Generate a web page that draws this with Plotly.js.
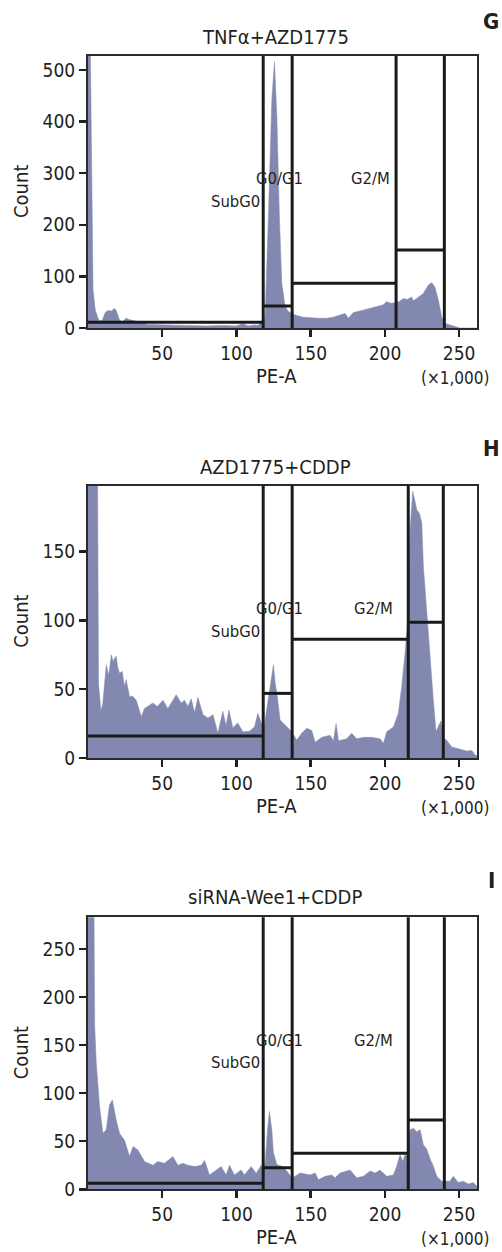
<!DOCTYPE html>
<html>
<head>
<meta charset="utf-8">
<script src="https://cdn.plot.ly/plotly-3.0.1.min.js"></script>
<style>html,body{margin:0;padding:0;background:#fff;}#chart{width:502px;height:1252px;}</style>
</head>
<body>
<div id="chart"></div>
<script>
// ---------- data ----------
const panelTitles = ["TNFα+AZD1775", "AZD1775+CDDP", "siRNA-Wee1+CDDP"];
const panelLetters = ["G", "H", "I"];
const xTickVals = [50, 100, 150, 200, 250];
const gateLabels = ["SubG0", "G0/G1", "G2/M"];

// Panel G: TNFα+AZD1775 (PE-A ×1,000 vs count)
const peA1 = [0,0.5,1.5,2.5,3.4,4.9,7.2,9.5,11.6,13.5,16,17.5,18.6,19.5,21,23,25.8,28,30.3,34.8,40,50,60,70,80,90,100,104,108,112,114.5,115.5,117,118.5,119.3,121.5,123.8,125.6,127.2,128.9,130.5,132.8,135,137.3,140.6,145,149.6,155,160.8,165,169.8,173.2,175.4,178.7,183.2,186,190,195,199,201,204,206.8,210,212.4,215,218,219,221.4,223.5,225.8,229.2,231.5,233.7,236,238.2,240.4,243.8,248.3,250.5,262];
const count1 = [600,600,560,300,73,35,15,14,30,34,33,38,36,30,17,12,19,16,15,12,7,6,5,5,4,5,4,8,4,6,5,8,10,14,22,216,442,516,410,216,87,41,32,28,24,21,20,19,19,21,25,28,19,30,33,35,38,41,45,51,48,49,52,57,55,60,53,57,62,67,83,88,79,54,22,9,6,2.5,0,0];

// Panel H: AZD1775+CDDP
const peA2 = [0,1,3,5.6,7.1,8.7,10,12.3,14,15.7,17,17.9,19,20,21.3,23,24.6,25.7,28,30,32.5,35.9,38,41,43.7,46.7,50.5,53.8,56,59.4,62.8,65,67.3,69.5,71.8,74,77.5,80.8,84.2,87.5,90.8,93,94.9,97.5,100.9,104.3,108.8,112.2,114.4,116.7,118.5,119.3,121.5,123.5,124.9,126,127.5,129.4,131.6,135,137.3,140.6,143.9,147.4,150.7,153,157.5,163,165.3,167.1,168.7,174.3,177.6,181,185.5,191.1,196.7,199,201.2,205.7,209,211.3,213.5,215.3,216.9,218.7,220,221.4,223.2,224.8,225.9,228.1,230.4,232.6,234.4,235.9,237.7,239.2,241.4,245,248.4,251.8,255.1,258.5,260.8,262];
const count2 = [400,400,400,400,54,34,40,67.7,60,75,70,72.5,74,66,61.6,63,52,57,44.6,45,42,30,36,38,40,37.5,42,36,40,46,40,42,37.5,43,33,44,31.5,29,31.5,18,34,23.5,35,22,25.5,19,19.5,22.7,32.5,25,20,27.7,44.6,58,67.7,55,44.6,27.7,25,21.6,19,13,18,21.6,20,11.5,15,16.5,12.6,25,12.6,14,18,14,15,15,14,10.7,19,22.6,32.5,52,76,100,166,194,188,180.5,178,171,139,105,69,42,19,22.7,27,15,13,8,7,6,5,5.5,2,2];

// Panel I: siRNA-Wee1+CDDP
const peA3 = [0,1,3.6,4.5,5.6,7.8,10.1,12.3,14.5,16.4,19,21.3,24.6,28,30.3,33.6,38.1,43.7,47,51.5,57.2,60.5,63.9,67.3,71.8,76.3,78.5,81.8,85.2,89.7,93,95.3,98.6,103.1,105.4,109.9,113.3,116.6,118.5,119.3,120.9,122.2,123.8,124.9,127.2,130.5,133.9,137.3,139.5,142.9,149.6,153,155.2,159.7,164.2,166.4,169.8,174.3,176.5,181,185.5,190,193.4,196.7,201.2,205.7,207.9,210.2,212,213.5,215.1,216.9,219.2,221.4,223.7,225.9,228.1,230.4,232.6,234.9,238.2,240.4,243.8,246,249.4,252.7,256.1,259.5,261.7,262];
const count3 = [400,400,400,170,131,86,58,62,88,93,72,58,51,34,44.5,41,28.8,25,28.8,27,34,25,27,25,23.6,25,30,15,18.4,23.6,15,25,15,20,15,23.6,16.6,25,22,27,62,81,62,38,25.7,24,19,12,13.5,17,15,17,10,13.5,15,12,17,19,20,12,13.5,19,17,20,13.5,15,24,36,29,36,34,62,63.5,60,62,46,42,31.6,24,13.5,8.5,8.5,8.5,13.5,7,8.5,5.5,7,3,3];

// Gate boundaries (PE-A ×1,000) and gate marker heights (count)
const gateBounds1 = [118, 137.5, 207.5, 240];
const gateHeights1 = [11, 42.6, 86.6, 151];
const gateBounds2 = [118, 137.5, 215.7, 239.3];
const gateHeights2 = [16, 47, 86.4, 98.8];
const gateBounds3 = [118, 137.5, 215.7, 240];
const gateHeights3 = [6.25, 22.5, 37.5, 72];

const yMax = [527, 198, 283];
const yDtick = [100, 50, 50];
const xRange = [0, 262];

// ---------- drawing ----------
const W = 502, H = 1252;
const FONT = "'Liberation Sans Narrow', 'DejaVu Sans Condensed', 'Arial Narrow', 'Liberation Sans', sans-serif";
const TXT = '#231f20';
const FILL = '#8388b0';
const px2x = p => p / W;
const px2y = p => 1 - p / H;

const plotLeft = 88, plotRight = 477;
const panelTopBottom = [[56, 328], [485.7, 758], [917.3, 1189.3]];
const titleY = [37, 467, 897];
const letterY = [22, 448, 880];

const xs = [peA1, peA2, peA3];
const ys = [count1, count2, count3];
const bounds = [gateBounds1, gateBounds2, gateBounds3];
const heights = [gateHeights1, gateHeights2, gateHeights3];
const g2mLabelX = [190.6, 192, 192];

const data = [];
const layout = {
  width: W, height: H,
  margin: {l: 0, r: 0, t: 0, b: 0},
  paper_bgcolor: '#fff', plot_bgcolor: '#fff',
  showlegend: false,
  font: {family: FONT, color: TXT, size: 18},
  shapes: [], annotations: []
};

for (let i = 0; i < 3; i++) {
  const sfx = i === 0 ? '' : String(i + 1);
  const xa = 'x' + sfx, ya = 'y' + sfx;
  data.push({
    type: 'scatter', mode: 'lines', x: xs[i], y: ys[i],
    xaxis: xa, yaxis: ya, fill: 'tozeroy', fillcolor: FILL,
    line: {color: FILL, width: 0.5}, hoverinfo: 'skip'
  });
  const [top, bot] = panelTopBottom[i];
  const axCommon = {
    showline: true, mirror: true, linecolor: '#2a2a2a', linewidth: 2,
    showgrid: false, zeroline: false, ticks: 'outside', ticklen: 7, tickwidth: 2.5,
    tickcolor: TXT, tickfont: {family: FONT, size: 19, color: TXT}, fixedrange: true
  };
  layout['xaxis' + sfx] = Object.assign({}, axCommon, {
    domain: [px2x(plotLeft), px2x(plotRight)], anchor: ya, range: xRange,
    tickmode: 'array', tickvals: xTickVals
  });
  layout['yaxis' + sfx] = Object.assign({}, axCommon, {
    domain: [px2y(bot), px2y(top)], anchor: xa, range: [0, yMax[i]],
    tick0: 0, dtick: yDtick[i]
  });

  // gate markers
  const b = bounds[i], h = heights[i];
  b.forEach(g => layout.shapes.push({
    type: 'line', xref: xa, yref: ya + ' domain', x0: g, x1: g, y0: 0, y1: 1,
    line: {color: '#1a1a1a', width: 3}
  }));
  const starts = [xRange[0]].concat(b.slice(0, 3));
  h.forEach((hv, k) => layout.shapes.push({
    type: 'line', xref: xa, yref: ya, x0: starts[k], x1: b[k], y0: hv, y1: hv,
    line: {color: '#1a1a1a', width: 3}
  }));

  // gate labels
  layout.annotations.push(
    {text: gateLabels[0], xref: xa, yref: ya + ' domain', x: 117, y: 0.465, xanchor: 'right', yanchor: 'middle', showarrow: false, font: {size: 16.5}},
    {text: gateLabels[1], xref: xa, yref: ya + ' domain', x: 128.7, y: 0.548, xanchor: 'center', yanchor: 'middle', showarrow: false, font: {size: 16.5}},
    {text: gateLabels[2], xref: xa, yref: ya + ' domain', x: g2mLabelX[i], y: 0.548, xanchor: 'center', yanchor: 'middle', showarrow: false, font: {size: 16.5}}
  );
  // title, axis titles, letters
  layout.annotations.push(
    {text: panelTitles[i], xref: 'paper', yref: 'paper', x: px2x(275), y: px2y(titleY[i]), xanchor: 'center', yanchor: 'middle', showarrow: false, font: {size: 20}},
    {text: 'Count', xref: 'paper', yref: 'paper', x: px2x(21), y: px2y((top + bot) / 2), xanchor: 'center', yanchor: 'middle', textangle: -90, showarrow: false, font: {size: 20}},
    {text: 'PE-A', xref: 'paper', yref: 'paper', x: px2x(276), y: px2y(bot + 48), xanchor: 'center', yanchor: 'middle', showarrow: false, font: {size: 20}},
    {text: '(×1,000)', xref: 'paper', yref: 'paper', x: px2x(455), y: px2y(bot + 50), xanchor: 'center', yanchor: 'middle', showarrow: false, font: {size: 17}},
    {text: '<b>' + panelLetters[i] + '</b>', xref: 'paper', yref: 'paper', x: px2x(491), y: px2y(letterY[i]), xanchor: 'center', yanchor: 'middle', showarrow: false, font: {size: 22}}
  );
}

Plotly.newPlot('chart', data, layout, {displayModeBar: false, staticPlot: true});
</script>
</body>
</html>
